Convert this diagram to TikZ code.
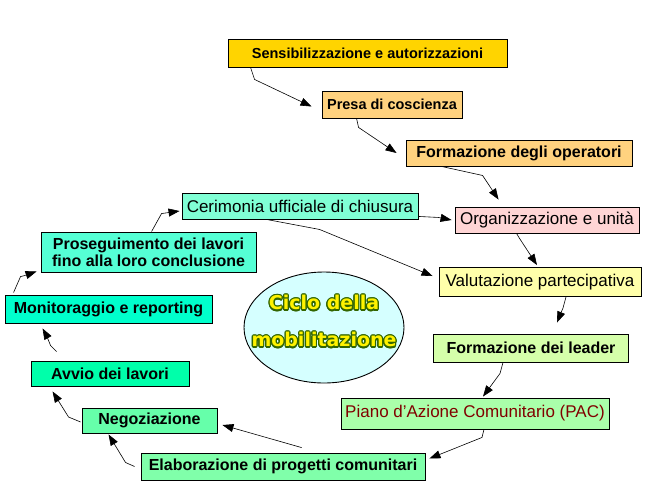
\documentclass[tikz,border=0pt]{standalone}
\usepackage{fontspec}
\setmainfont{Liberation Sans}
\newfontfamily\ciclofont{DejaVu Sans}[BoldFont={DejaVu Sans Bold}]
\usepackage{contour}
\contourlength{1.2pt}
\usetikzlibrary{arrows.meta,shapes.geometric}

\definecolor{sensfill}{HTML}{FFD400}
\definecolor{orangefill}{HTML}{FFD27F}
\definecolor{pinkfill}{HTML}{FFD5D5}
\definecolor{yellowfill}{HTML}{FFFFAA}
\definecolor{limefill}{HTML}{D5FFAA}
\definecolor{greenfill}{HTML}{AAFFAA}
\definecolor{mintfill}{HTML}{80FFAA}
\definecolor{negofill}{HTML}{66FFAA}
\definecolor{avviofill}{HTML}{00FFAA}
\definecolor{monifill}{HTML}{00FFCC}
\definecolor{prosfill}{HTML}{55FFD5}
\definecolor{cerifill}{HTML}{80FFD5}
\definecolor{ellfill}{HTML}{D5FFFF}
\definecolor{pactext}{HTML}{800000}
\definecolor{cicloedge}{HTML}{336600}

\begin{document}
\begin{tikzpicture}[x=1pt,y=-1pt,
	stage/.style={draw,line width=0.9pt,inner sep=0pt,align=center,font=\fontsize{17}{17}\selectfont},
	stagebf/.style={stage,font=\fontsize{16}{17}\selectfont\bfseries},
	link/.style={line width=0.6pt,-{Triangle[length=11pt,width=8pt]}}]
	\useasboundingbox (0,0) rectangle (669,483);

	\node[stagebf,fill=sensfill,minimum width=279,minimum height=28,font=\fontsize{14.5}{15}\selectfont\bfseries] (sens) at (367.5,53) {Sensibilizzazione e autorizzazioni};
	\node[stagebf,fill=orangefill,minimum width=140,minimum height=27,font=\fontsize{14.5}{15}\selectfont\bfseries] (presa) at (392,104.5) {Presa di coscienza};
	\node[stagebf,fill=orangefill,minimum width=226,minimum height=26] (formop) at (519,153) {Formazione degli operatori};
	\node[stage,fill=pinkfill,minimum width=184,minimum height=26] (org) at (547,220) {Organizzazione e unità};
	\node[stage,fill=yellowfill,minimum width=202,minimum height=29] (valu) at (540,282) {Valutazione partecipativa};
	\node[stagebf,fill=limefill,minimum width=195,minimum height=28] (leader) at (531,348) {Formazione dei leader};
	\node[stage,fill=greenfill,minimum width=268,minimum height=31,text=pactext] (piano) at (475,413.5) {Piano d'Azione Comunitario (PAC)};
	\node[stagebf,fill=mintfill,minimum width=284,minimum height=27] (elab) at (283,466.5) {Elaborazione di progetti comunitari};
	\node[stagebf,fill=negofill,minimum width=135,minimum height=25] (nego) at (149.5,420.5) {Negoziazione};
	\node[stagebf,fill=avviofill,minimum width=158,minimum height=25] (avvio) at (110,373.5) {Avvio dei lavori};
	\node[stagebf,fill=monifill,minimum width=207,minimum height=28] (moni) at (108.5,309) {Monitoraggio e reporting};
	\node[stagebf,fill=prosfill,minimum width=215,minimum height=40] (pros) at (148.5,252) {Proseguimento dei lavori\\fino alla loro conclusione};
	\node[stage,fill=cerifill,minimum width=236,minimum height=26] (ceri) at (300,206) {Cerimonia ufficiale di chiusura};

	\node[ellipse,draw,line width=0.9pt,fill=ellfill,minimum width=160,minimum height=111] (ciclo) at (324,327.5) {};
	\node[align=center,text=yellow,font=\ciclofont\bfseries\fontsize{19}{37}\selectfont] (ciclotext) at (324,322) {\contour{cicloedge}{Ciclo della}\\\contour{cicloedge}{mobilitazione}};

	\coordinate (elabtop) at ([shift={(161,-5)}]elab.north west);

	\draw[link] ([shift={(23,0)}]sens.south west) -- ++(4,12) -- ([shift={(-10,2)}]presa.west);
	\draw[link] ([shift={(35,0)}]presa.south west) -- ++(2,9) -- ([shift={(-9,0)}]formop.west);
	\draw[link] ([shift={(36,0)}]formop.south west) -- ++(41,9) -- ([shift={(44,-7)}]org.north west);
	\draw[link] ([shift={(0,-3)}]ceri.south east) -- ++(20,1) -- ([shift={(-3,0)}]org.west);
	\draw[link] ([shift={(85,0)}]ceri.south west) -- ++(53,10) -- ([shift={(-6,-6)}]valu.west);
	\draw[link] ([shift={(62,0)}]org.south west) -- ++(3,5) -- ([shift={(-3,-2)}]valu.north);
	\draw[link] ([shift={(26,0)}]valu.south) -- ++(-3,11) -- ([shift={(26,-11)}]leader.north);
	\draw[link] ([shift={(-28,0)}]leader.south) -- ++(-3,11) -- ([shift={(8,-1)}]piano.north);
	\draw[link] ([shift={(9,0)}]piano.south) -- ++(-2,8) -- ([shift={(4,-8)}]elab.east);
	\draw[link] (elabtop) -- ([shift={(5,4.5)}]nego.east);
	\draw[link] ([shift={(-6,0)}]elab.west) -- ++(-9,-4) -- ([shift={(27,1)}]nego.south west);
	\draw[link] ([shift={(-1,1.5)}]nego.west) -- ++(-12,-5) -- ([shift={(22,5)}]avvio.south west);
	\draw[link] ([shift={(26,-9)}]avvio.north west) -- ++(-6,-6) -- ++(-4,-10) -- ([shift={(38,5)}]moni.south west);
	\draw[link] ([shift={(9,-2)}]moni.north west) -- ++(7,-16) -- ++(4,-1) -- ([shift={(-4,-1)}]pros.south west);
	\draw[link] ([shift={(111,0)}]pros.north west) -- ++(10,-18) -- ([shift={(-2,5)}]ceri.west);
\end{tikzpicture}
\end{document}
